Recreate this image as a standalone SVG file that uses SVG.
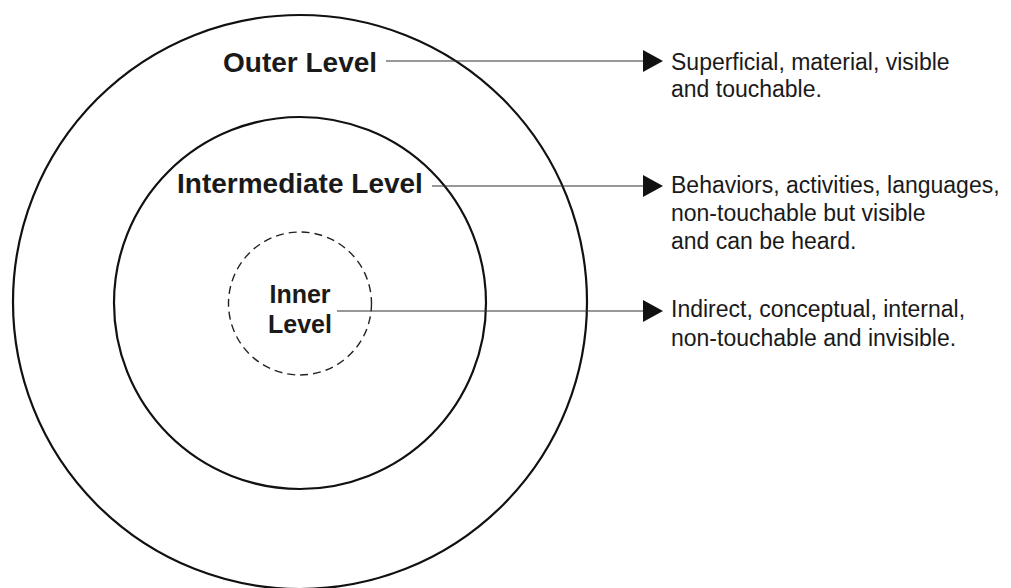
<svg xmlns="http://www.w3.org/2000/svg" width="1011" height="588" viewBox="0 0 1011 588">
  <defs>
    <style>
      .ring { fill: none; stroke: #111; stroke-width: 2.2; }
      .ring-dash { fill: none; stroke: #222; stroke-width: 1.4; stroke-dasharray: 8 5; }
      .lbl { font-family: "Liberation Sans", Arial, sans-serif; font-weight: bold; fill: #1a1a1a; }
      .desc { font-family: "Liberation Sans", Arial, sans-serif; font-size: 23px; fill: #1a1a1a; }
      .link { stroke: #333; stroke-width: 1.2; fill: none; marker-end: url(#head); }
    </style>
    <marker id="head" markerUnits="userSpaceOnUse" markerWidth="21" markerHeight="23" refX="0" refY="11" orient="auto">
      <path d="M0,0 L20,11 L0,22 Z" fill="#111"/>
    </marker>
  </defs>
  <rect width="1011" height="588" fill="#fff"/>

  <!-- concentric levels -->
  <g id="outer-level">
    <circle class="ring" cx="300" cy="302" r="287"/>
    <text class="lbl" x="223" y="72" font-size="28">Outer Level</text>
  </g>
  <g id="intermediate-level">
    <circle class="ring" cx="300" cy="303" r="186"/>
    <text class="lbl" x="177" y="193" font-size="28">Intermediate Level</text>
  </g>
  <g id="inner-level">
    <circle class="ring-dash" cx="300" cy="303.5" r="71.5"/>
    <text class="lbl" x="300" y="303" font-size="25" text-anchor="middle">Inner</text>
    <text class="lbl" x="300" y="333" font-size="25" text-anchor="middle">Level</text>
  </g>

  <!-- descriptions -->
  <g id="outer-desc">
    <text class="desc" x="671" y="70">Superficial, material, visible</text>
    <text class="desc" x="671" y="97">and touchable.</text>
  </g>
  <g id="intermediate-desc">
    <text class="desc" x="671" y="193">Behaviors, activities, languages,</text>
    <text class="desc" x="671" y="221">non-touchable but visible</text>
    <text class="desc" x="671" y="249">and can be heard.</text>
  </g>
  <g id="inner-desc">
    <text class="desc" x="671" y="317">Indirect, conceptual, internal,</text>
    <text class="desc" x="671" y="346">non-touchable and invisible.</text>
  </g>

  <!-- connectors -->
  <g id="connectors">
    <line class="link" x1="386" y1="61" x2="643" y2="61"/>
    <line class="link" x1="432" y1="186" x2="643" y2="186"/>
    <line class="link" x1="337" y1="311" x2="643" y2="311"/>
  </g>
</svg>
